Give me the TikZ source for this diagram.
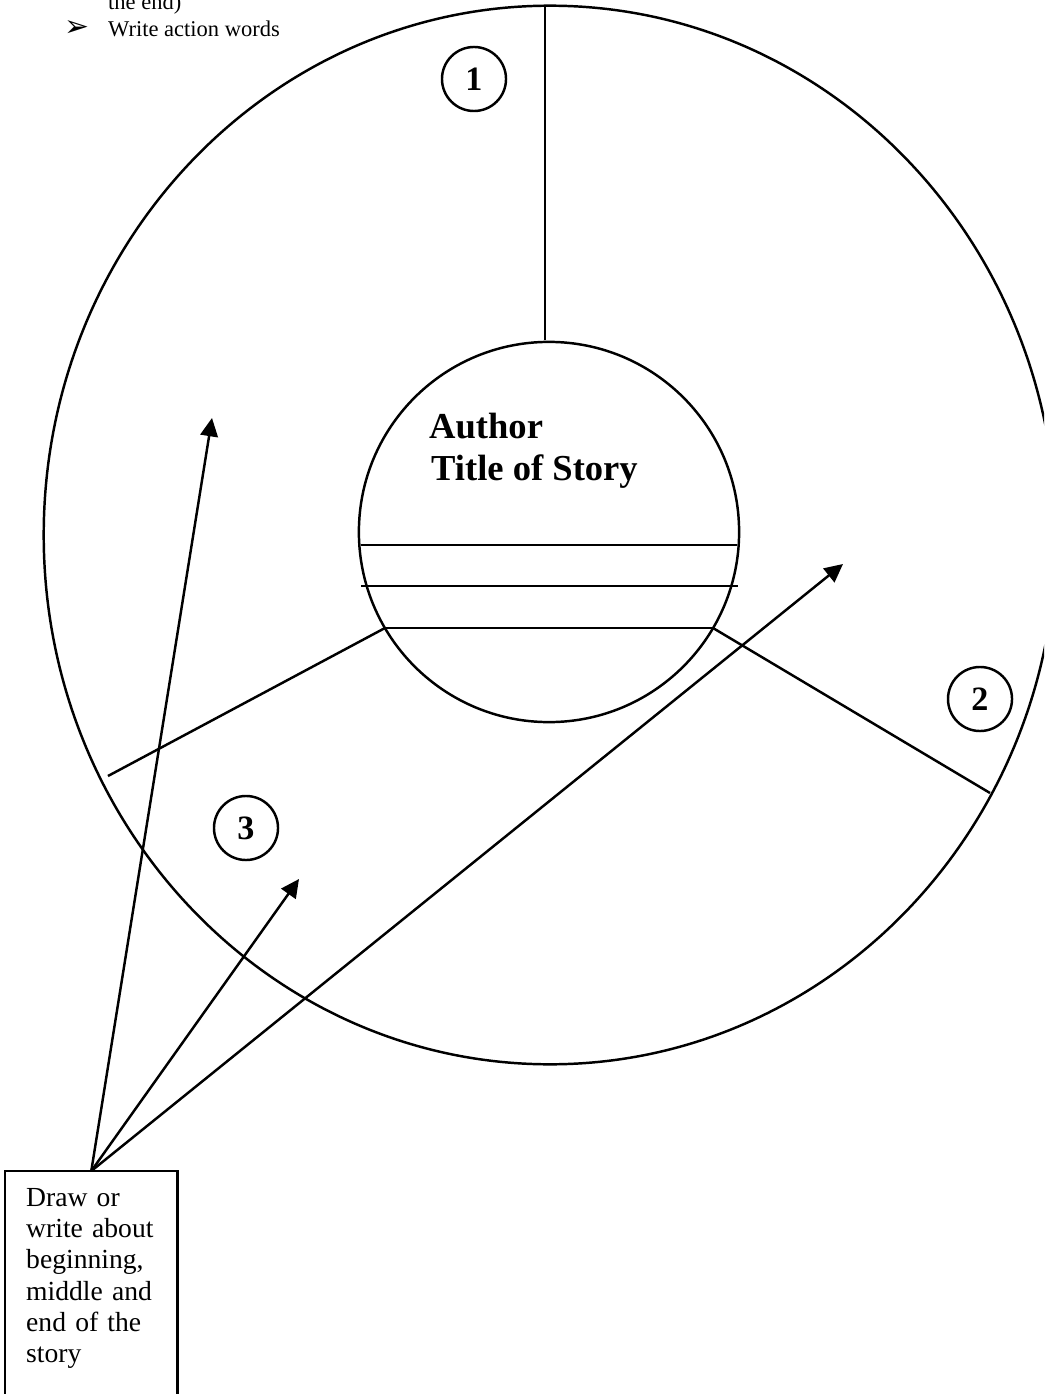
\documentclass[tikz,border=0pt]{standalone}
\usepackage{fontspec}
\setmainfont{Liberation Serif}
\newfontfamily\dingfont{DejaVu Sans}
\usetikzlibrary{arrows.meta}

\tikzset{
  num/.style={draw, circle, minimum size=0.64cm, inner sep=0pt,
    font=\fontsize{9.7}{11}\selectfont\bfseries},
  pointer/.style={-{Triangle[length=5.2pt,width=5pt]}},
  heading/.style={anchor=base west, inner sep=0pt,
    font=\fontsize{10.4}{12}\selectfont\bfseries},
  small/.style={anchor=base west, inner sep=0pt,
    font=\fontsize{6.4}{7.7}\selectfont}
}

\begin{document}
\begin{tikzpicture}[x=0.01cm, y=-0.01cm, line width=0.7pt]
	\useasboundingbox (0,0) rectangle (1044,1394);
	\clip (0,0) rectangle (1044,1394);
	% outer wheel and hub
	\draw (550,535) ellipse [x radius=5.06cm, y radius=5.29cm];
	\node[draw, circle, minimum size=3.8cm, inner sep=0pt] (hub) at (549,532) {};
	\draw (361,545) -- (737,545);
	\draw (361,586) -- (738,586);
	\draw (385,628) coordinate (chordl) -- (713,628) coordinate (chordr);
	% spokes
	\draw (545,6) -- (545,340);
	\draw (chordl) -- (108,776);
	\draw (chordr) -- (990,793);
	% section numbers
	\node[num] (one) at (474,79) {1};
	\node[num] (two) at (980,699) {2};
	\node[num] (three) at (246,828) {3};
	% title
	\node[heading] (author) at (428,438) {Author};
	\node[heading] (title) at (430,480) {Title of Story};
	% notes at the top
	\node[small] (end) at (107,10) {the end)};
	\node[anchor=base west, inner sep=0pt, font=\fontsize{8.5}{9}\dingfont\bfseries] (bullet) at (63,37) {➢};
	\node[small] (action) at (107,37) {Write action words};
	% box with arrows
	\node[anchor=north west, text width=1.3cm, inner xsep=0.2cm, inner ysep=0.16cm,
		align=left, font=\fontsize{7.85}{8.9}\selectfont] (note) at (5,1171)
		{Draw or\\ write about\\ beginning,\\ middle and\\ end of the\\ story};
	\draw ([yshift=-3cm]note.north west) -- (note.north west) -- (note.north east) -- ([yshift=-3cm]note.north east);
	\coordinate (tipa) at (212,418);
	\coordinate (tipb) at (299,879);
	\coordinate (tipc) at (843,564);
	\draw[pointer] (note.north) -- (tipa);
	\draw[pointer] (note.north) -- (tipb);
	\draw[pointer] (note.north) -- (tipc);
\end{tikzpicture}
\end{document}
